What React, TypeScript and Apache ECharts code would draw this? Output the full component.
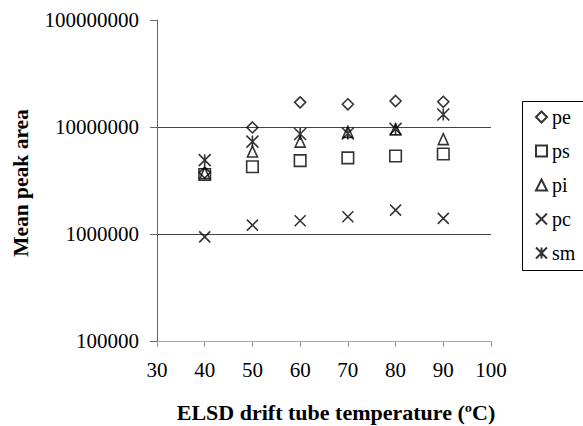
import React, { useEffect, useRef } from "react";
import * as echarts from "echarts";

const temps = [40, 50, 60, 70, 80, 90];
const peValues = [3.75e6, 9.9e6, 1.7e7, 1.63e7, 1.75e7, 1.72e7];
const psValues = [3.6e6, 4.25e6, 4.85e6, 5.15e6, 5.35e6, 5.6e6];
const piValues = [3.7e6, 5.9e6, 7.3e6, 9.0e6, 9.5e6, 7.7e6];
const pcValues = [9.4e5, 1.21e6, 1.33e6, 1.45e6, 1.67e6, 1.4e6];
const smValues = [4.9e6, 7.3e6, 8.6e6, 8.7e6, 9.6e6, 1.31e7];
const seriesNames = ["pe", "ps", "pi", "pc", "sm"];
const xTitle = "ELSD drift tube temperature (ºC)";
const yTitle = "Mean peak area";

const FONT = "Liberation Serif";

const symbols: Record<string, { symbol: string; size: number | number[] }> = {
  pe: { symbol: "diamond", size: 11 },
  ps: { symbol: "rect", size: 11.5 },
  pi: { symbol: "triangle", size: [10, 11] },
  pc: { symbol: "path://M0 0L10 10M10 0L0 10", size: 11 },
  sm: { symbol: "path://M0 0L10 10M10 0L0 10M5 0L5 10", size: 12 },
};

export default function App() {
  const ref = useRef<HTMLDivElement>(null);
  useEffect(() => {
    if (!ref.current) return;
    const chart = echarts.init(ref.current, null, { renderer: "svg" });
    const valuesList = [peValues, psValues, piValues, pcValues, smValues];
    const series = seriesNames.map((name, i) => ({
      name,
      type: "scatter",
      data: temps.map((t, j) => [t, valuesList[i][j]]),
      symbol: symbols[name].symbol,
      symbolSize: symbols[name].size,
      itemStyle: {
        color: "rgba(0,0,0,0)",
        borderColor: "#000",
        borderWidth: 1.6,
      },
      emphasis: { disabled: true },
    }));
    chart.setOption({
      animation: false,
      backgroundColor: "#fff",
      textStyle: { fontFamily: FONT },
      grid: { left: 157, right: 92, top: 20, bottom: 85 },
      xAxis: {
        type: "value",
        min: 30,
        max: 100,
        interval: 10,
        axisLine: { show: true, lineStyle: { color: "#aaa", width: 1 } },
        axisTick: { show: true, inside: false, length: 6, lineStyle: { color: "#999" } },
        splitLine: { show: false },
        axisLabel: { fontFamily: FONT, fontSize: 21, color: "#000", margin: 18 },
      },
      yAxis: {
        type: "log",
        logBase: 10,
        min: 1e5,
        max: 1e8,
        axisLine: { show: true, lineStyle: { color: "#666", width: 1 } },
        axisTick: { show: true, inside: false, length: 7, lineStyle: { color: "#666" } },
        splitLine: {
          show: true,
          showMaxLine: false,
          showMinLine: false,
          lineStyle: { color: "#444", width: 1 },
        },
        axisLabel: {
          fontFamily: FONT,
          fontSize: 21,
          color: "#000",
          margin: 18,
          formatter: (v: number) => String(Math.round(v)),
        },
      },
      legend: {
        orient: "vertical",
        left: 530,
        top: 102,
        itemWidth: 11,
        itemHeight: 11,
        itemGap: 14,
        data: seriesNames,
        textStyle: { fontFamily: FONT, fontSize: 20, color: "#000" },
        selectedMode: false,
      },
      graphic: [
        {
          type: "rect",
          shape: { x: 522.5, y: 101.5, width: 80, height: 169 },
          style: { fill: "none", stroke: "#000", lineWidth: 1 },
          silent: true,
        },
        {
          type: "text",
          x: 21,
          y: 183,
          rotation: Math.PI / 2,
          style: {
            text: yTitle,
            font: `bold 21.5px ${FONT}`,
            fill: "#000",
            textAlign: "center",
            textVerticalAlign: "middle",
          },
        },
        {
          type: "text",
          x: 336,
          y: 412,
          style: {
            text: xTitle,
            font: `bold 22px ${FONT}`,
            fill: "#000",
            textAlign: "center",
            textVerticalAlign: "middle",
          },
        },
      ],
      series,
    });
    return () => chart.dispose();
  }, []);
  return (
    <div
      ref={ref}
      style={{ position: "fixed", left: 0, top: 0, width: 583, height: 426, background: "#fff" }}
    />
  );
}
